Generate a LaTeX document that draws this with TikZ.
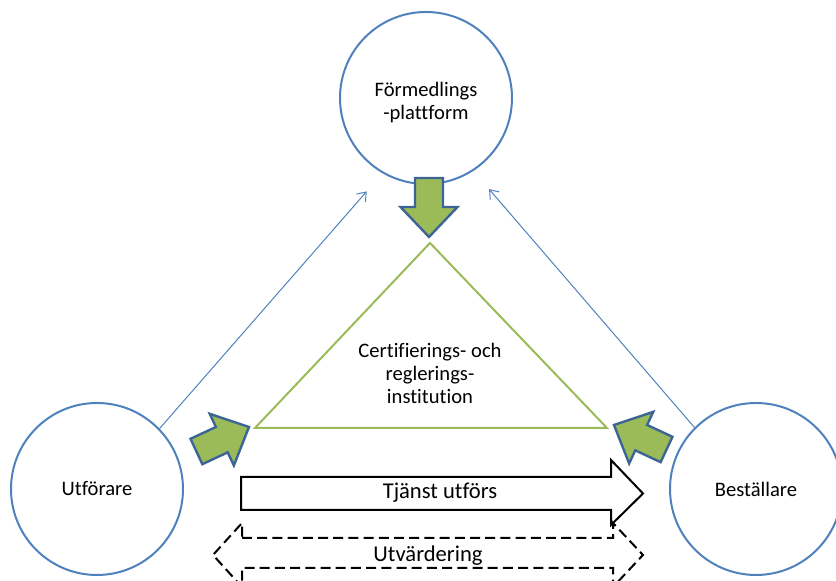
\documentclass[tikz,border=0pt]{standalone}
\usepackage{fontspec}
\setmainfont{Carlito}[Ligatures=NoCommon]
\usetikzlibrary{arrows.meta}

\begin{document}
\begin{tikzpicture}[x=0.5pt, y=0.5pt]

\definecolor{ringBlue}{HTML}{4F81BD}
\definecolor{edgeBlue}{HTML}{3C6595}
\definecolor{leafGreen}{HTML}{9BBB59}

\tikzset{
  party/.style={circle, draw=ringBlue, line width=1pt, fill=white, minimum size=86pt, inner sep=0pt, align=center, font=\fontsize{10.3}{11.8}\selectfont},
  thinarr/.style={-{Straight Barb[length=4pt, width=6pt]}, draw=ringBlue, line width=0.5pt, shorten >=12pt},
  greenarr/.style={fill=leafGreen, draw=edgeBlue, line width=1.2pt, line join=miter},
  blockarr/.style={draw=black, line width=1pt, fill=white, line join=miter},
  blocktext/.style={font=\fontsize{11.3}{13}\selectfont}
}

\useasboundingbox (0,0) rectangle (836,581);
\clip (0,0) rectangle (836,581);

% Three parties
\node[party] (form) at (426,483) {\raisebox{-11pt}[0pt][0pt]{\shortstack{Förmedlings\\-plattform}}};
\node[party] (utf) at (97,92) {Utförare};
\node[party] (best) at (756,92) {Beställare};

% Thin arrows towards the platform
\draw[thinarr] (utf.44) -- (form.240);
\draw[thinarr] (best.135) -- (form.-57);

% Triangle (institution)
\draw[leafGreen, line width=1pt, line join=miter] (430,338) coordinate (apex) -- (607,153) coordinate (baseR) -- (255,153) coordinate (baseL) -- cycle;
\node[align=center, font=\fontsize{10.3}{11.5}\selectfont] (cert) at (430,208) {Certifierings- och\\reglerings-\\institution};

% Green arrows pointing at the triangle
\draw[greenarr, shift={(429,344)}, rotate=-90] (0,0) -- (-30,28.5) -- (-30,14) -- (-59,14) -- (-59,-14) -- (-30,-14) -- (-30,-28.5) -- cycle;
\draw[greenarr, shift={(249,154)}, rotate=25] (0,0) -- (-30,28.5) -- (-30,14) -- (-58,14) -- (-58,-14) -- (-30,-14) -- (-30,-28.5) -- cycle;
\draw[greenarr, shift={(614,156)}, rotate=155] (0,0) -- (-30,28.5) -- (-30,14) -- (-58,14) -- (-58,-14) -- (-30,-14) -- (-30,-28.5) -- cycle;

% Service arrow
\draw[blockarr] (241,104) -- (611,104) -- (611,121) -- (643,87.5) -- (611,56) -- (611,71) -- (241,71) -- cycle;
\node[blocktext] (tjanst) at (440,88) {Tjänst utförs};

% Evaluation arrow (dashed, both ways)
\draw[blockarr, dash pattern=on 5pt off 2.6pt] (242,43) -- (613,43) -- (613,58) -- (643,26) -- (613,-6) -- (613,13) -- (242,13) -- (242,-6) -- (213,26) -- (242,58) -- cycle;
\node[blocktext] (utv) at (428,25) {Utvärdering};

\end{tikzpicture}
\end{document}
